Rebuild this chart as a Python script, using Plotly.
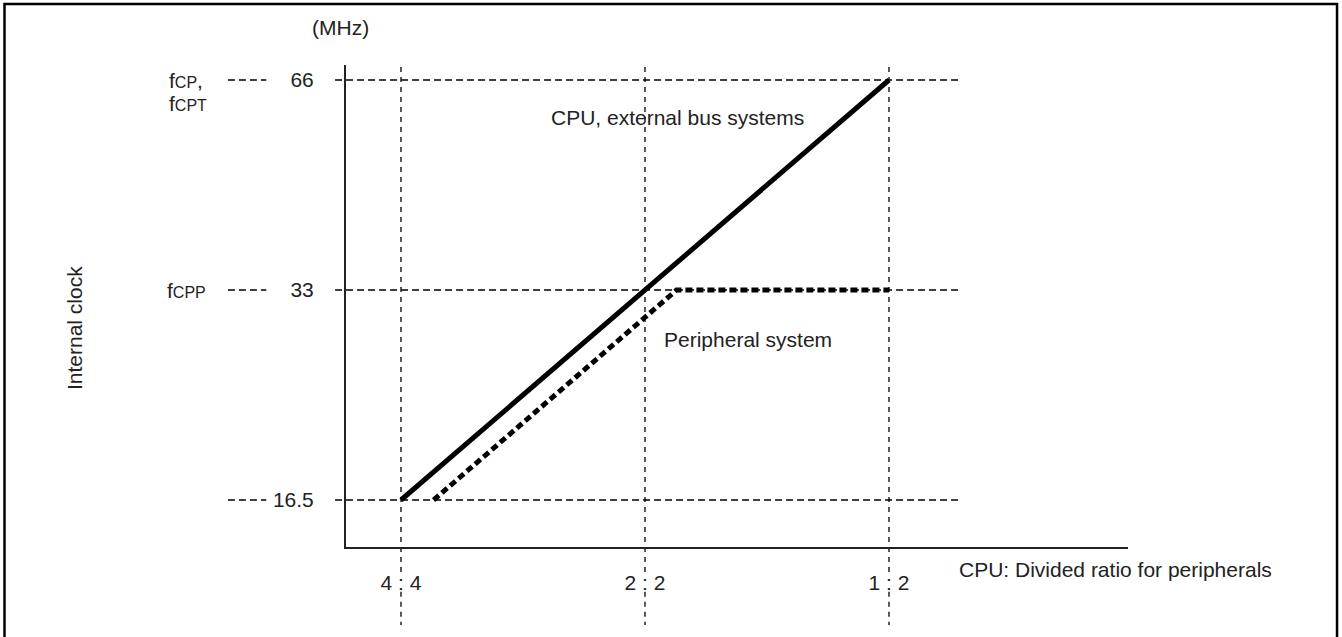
import math
import plotly.graph_objects as go

# divided ratio (CPU : peripherals) and the CPU clock it gives, in MHz
ratio_labels = ["4 : 4", "2 : 2", "1 : 2"]
ratio_cpu_mhz = [16.5, 33, 66]

# internal clock levels on the y axis
clock_mhz = [16.5, 33, 66]
clock_text = ["16.5", "33", "66"]

# CPU / external bus systems line
cpu_x = [16.5, 33, 66]
cpu_y = [16.5, 33, 66]

# peripheral system line (drawn a little to the right of the CPU line, capped at 33 MHz)
periph_x = [18.1, 36.1, 66]
periph_y = [16.5, 33, 33]

FONT = "Liberation Sans, Arial, sans-serif"
FS = 21
small = '<span style="font-size:16px">{}</span>'

fig = go.Figure()

fig.add_trace(go.Scatter(x=cpu_x, y=cpu_y, mode="lines",
                         line=dict(color="black", width=5), showlegend=False))
fig.add_trace(go.Scatter(x=periph_x, y=periph_y, mode="lines",
                         line=dict(color="black", width=5, dash="7px,4px"), showlegend=False))

guide = dict(color="black", width=1.3)
# vertical guides at each ratio, broken where the ratio label sits
for xv in ratio_cpu_mhz:
    for y0, y1 in [(-0.052, 1.0), (-0.093, -0.162)]:
        fig.add_shape(type="line", xref="x", yref="paper", x0=xv, x1=xv, y0=y0, y1=y1,
                      line=dict(guide, dash="5px,5px"), layer="below")
# horizontal guides at each clock level
for yv in clock_mhz:
    fig.add_shape(type="line", xref="paper", yref="y", x0=-0.014, x1=0.785, y0=yv, y1=yv,
                  line=dict(guide, dash="7px,4px"), layer="below")
    fig.add_shape(type="line", xref="paper", yref="y", x0=-0.151, x1=-0.102, y0=yv, y1=yv,
                  line=dict(guide, dash="7px,4px"), layer="below")

# outer frame (bottom edge falls off the page)
fig.add_shape(type="rect", xref="paper", yref="paper", x0=-0.4367, x1=1.2673, y0=-0.2, y1=1.1266,
              line=dict(color="black", width=2.5))

ann = dict(showarrow=False, font=dict(family=FONT, size=FS, color="#222"))
# annotations on a log axis take log10 positions
fig.add_annotation(text="f" + small.format("CP") + ",", xref="paper", yref="y", x=-0.229,
                   y=math.log10(66), xanchor="left", yanchor="middle", **ann)
fig.add_annotation(text="f" + small.format("CPT"), xref="paper", yref="y", x=-0.229,
                   y=math.log10(66), yshift=-23, xanchor="left", yanchor="middle", **ann)
fig.add_annotation(text="f" + small.format("CPP"), xref="paper", yref="y", x=-0.232,
                   y=math.log10(33), xanchor="left", yanchor="middle", **ann)
fig.add_annotation(text="(MHz)", xref="paper", yref="paper", x=-0.0064, y=1.0768,
                   xanchor="center", yanchor="middle", **ann)
fig.add_annotation(text="Internal clock", xref="paper", yref="paper", x=-0.3465, y=0.4544,
                   textangle=-90, xanchor="center", yanchor="middle", **ann)
fig.add_annotation(text="CPU: Divided ratio for peripherals", xref="paper", yref="paper",
                   x=0.7813, y=-0.0477, xanchor="left", yanchor="middle", **ann)
fig.add_annotation(text="CPU, external bus systems", xref="paper", yref="paper",
                   x=0.2596, y=0.8921, xanchor="left", yanchor="middle", **ann)
fig.add_annotation(text="Peripheral system", xref="paper", yref="paper",
                   x=0.4041, y=0.4295, xanchor="left", yanchor="middle", **ann)

fig.update_xaxes(type="log", range=[1.14963, 2.11440], tickvals=ratio_cpu_mhz, ticktext=ratio_labels,
                 showgrid=False, zeroline=False, showline=True, linecolor="#222", linewidth=2,
                 ticks="", ticklabelstandoff=16, tickfont=dict(family=FONT, size=FS, color="#222"))
fig.update_yaxes(type="log", range=[1.15011, 1.84104], tickvals=clock_mhz, ticktext=clock_text,
                 showgrid=False, zeroline=False, showline=True, linecolor="#222", linewidth=2,
                 ticks="", ticklabelstandoff=26, tickfont=dict(family=FONT, size=FS, color="#222"))

fig.update_layout(width=1342, height=637, margin=dict(l=346, r=214, t=65, b=90),
                  plot_bgcolor="white", paper_bgcolor="white", showlegend=False)

# drop the browser's default body margin so the figure sits at the page corner
fig.write_html("out.html", config={"displayModeBar": False},
               post_script="document.body.style.margin='0';")
